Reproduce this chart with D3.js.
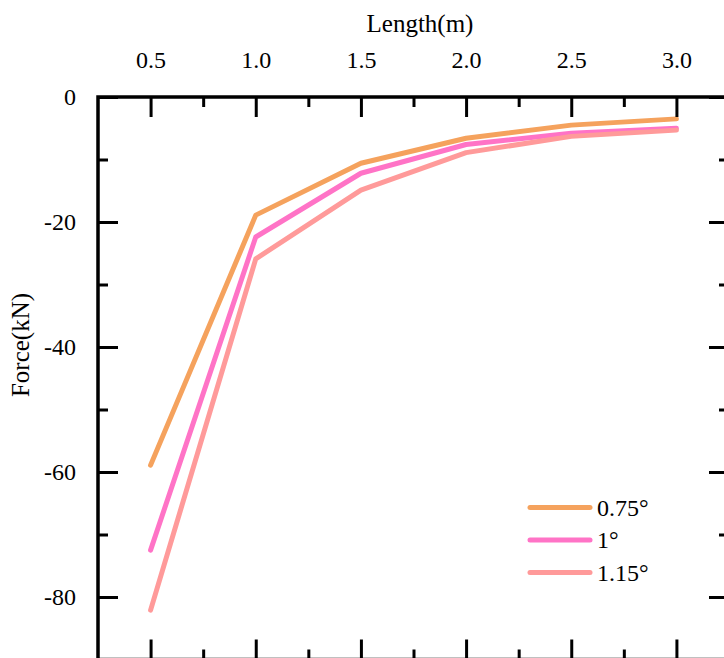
<!DOCTYPE html>
<html>
<head>
<meta charset="utf-8">
<script src="https://cdn.jsdelivr.net/npm/d3@7"></script>
<style>
  body { margin: 0; background: #fff; }
  svg text { font-family: "Liberation Serif", "Times New Roman", serif; fill: #000; }
</style>
</head>
<body>
<div id="chart"></div>
<script>
// data
const lengths = [0.5, 1.0, 1.5, 2.0, 2.5, 3.0];
const angleNames = ["0.75°", "1°", "1.15°"];
const force075 = [-58.9, -18.9, -10.6, -6.6, -4.5, -3.5];
const force1 = [-72.5, -22.4, -12.2, -7.6, -5.8, -5.0];
const force115 = [-82.1, -25.9, -14.9, -8.9, -6.3, -5.3];
const colors = ["#f5a25d", "#ff73c6", "#ff9a9a"];
const xMajor = [0.5, 1.0, 1.5, 2.0, 2.5, 3.0];
const xMinor = [0.75, 1.25, 1.75, 2.25, 2.75];
const yMajor = [0, -20, -40, -60, -80];
const yMinor = [-10, -30, -50, -70];

const W = 724, H = 658;
const m = {left: 98, top: 97, right: 729, bottom: 659.5};
const serif = "'Liberation Serif', 'Times New Roman', serif";

let svg = d3.select("#chart").append("svg")
    .attr("width", W)
    .attr("height", H);

let x = d3.scaleLinear().domain([0.25, 3.25]).range([m.left, m.right]);
let y = d3.scaleLinear().domain([0, -90]).range([m.top, m.bottom]);

const series = [force075, force1, force115];

// lines
let line = d3.line()
    .x((d, i) => x(lengths[i]))
    .y(d => y(d));

svg.selectAll("path.series")
    .data(series)
    .enter()
    .append("path")
    .attr("class", "series")
    .attr("d", line)
    .attr("fill", "none")
    .attr("stroke", (d, i) => colors[i])
    .attr("stroke-width", 5)
    .attr("stroke-linecap", "round")
    .attr("stroke-linejoin", "round");

// axes, ticks pointing inwards
function styleAxis(g, fs) {
    g.attr("font-family", serif).attr("font-size", fs);
    g.select(".domain").remove();
    g.selectAll(".tick line").attr("stroke", "#000").attr("stroke-width", 3);
    g.selectAll(".tick text").attr("fill", "#000")
        .style("font-size", fs + "px")
        .style("font-family", serif);
}

// top
let topAxis = svg.append("g").attr("transform", `translate(0,${m.top})`)
    .call(d3.axisTop(x).tickValues(xMajor).tickSize(-20).tickPadding(29).tickFormat(d3.format(".1f")));
styleAxis(topAxis, 24);
let topMinor = svg.append("g").attr("transform", `translate(0,${m.top})`)
    .call(d3.axisTop(x).tickValues(xMinor).tickSize(-10).tickFormat(""));
styleAxis(topMinor, 24);

// bottom
let bottomAxis = svg.append("g").attr("transform", `translate(0,${m.bottom})`)
    .call(d3.axisBottom(x).tickValues(xMajor).tickSize(-20).tickFormat(""));
styleAxis(bottomAxis, 24);
let bottomMinor = svg.append("g").attr("transform", `translate(0,${m.bottom})`)
    .call(d3.axisBottom(x).tickValues(xMinor).tickSize(-10).tickFormat(""));
styleAxis(bottomMinor, 24);

// left
let leftAxis = svg.append("g").attr("transform", `translate(${m.left},0)`)
    .call(d3.axisLeft(y).tickValues(yMajor).tickSize(-20).tickPadding(22).tickFormat(d3.format("d")));
styleAxis(leftAxis, 24);
leftAxis.selectAll(".tick text").text(d => d < 0 ? "-" + Math.abs(d) : d);
let leftMinor = svg.append("g").attr("transform", `translate(${m.left},0)`)
    .call(d3.axisLeft(y).tickValues(yMinor).tickSize(-10).tickFormat(""));
styleAxis(leftMinor, 24);

// right
let rightAxis = svg.append("g").attr("transform", `translate(${m.right},0)`)
    .call(d3.axisRight(y).tickValues(yMajor).tickSize(-20).tickFormat(""));
styleAxis(rightAxis, 24);
let rightMinor = svg.append("g").attr("transform", `translate(${m.right},0)`)
    .call(d3.axisRight(y).tickValues(yMinor).tickSize(-10).tickFormat(""));
styleAxis(rightMinor, 24);

// frame
svg.append("rect")
    .attr("x", m.left)
    .attr("y", m.top)
    .attr("width", m.right - m.left)
    .attr("height", m.bottom - m.top)
    .attr("fill", "none")
    .attr("stroke", "#000")
    .attr("stroke-width", 3.5);

// axis titles
svg.append("text")
    .attr("x", 420)
    .attr("y", 32)
    .attr("text-anchor", "middle")
    .style("font-size", "25px")
    .style("font-family", serif)
    .text("Length(m)");

svg.append("text")
    .attr("transform", `translate(29,${345}) rotate(-90)`)
    .attr("text-anchor", "middle")
    .style("font-size", "25px")
    .style("font-family", serif)
    .text("Force(kN)");

// legend
let legend = svg.append("g").attr("class", "legend");
angleNames.forEach((name, i) => {
    let ly = 507.5 + i * 32.5;
    legend.append("line")
        .attr("x1", 530).attr("x2", 590)
        .attr("y1", ly).attr("y2", ly)
        .attr("stroke", colors[i])
        .attr("stroke-width", 5)
        .attr("stroke-linecap", "round");
    legend.append("text")
        .attr("x", 597)
        .attr("y", ly + 8)
        .style("font-size", "24px")
        .style("font-family", serif)
        .text(name);
});
</script>
</body>
</html>
